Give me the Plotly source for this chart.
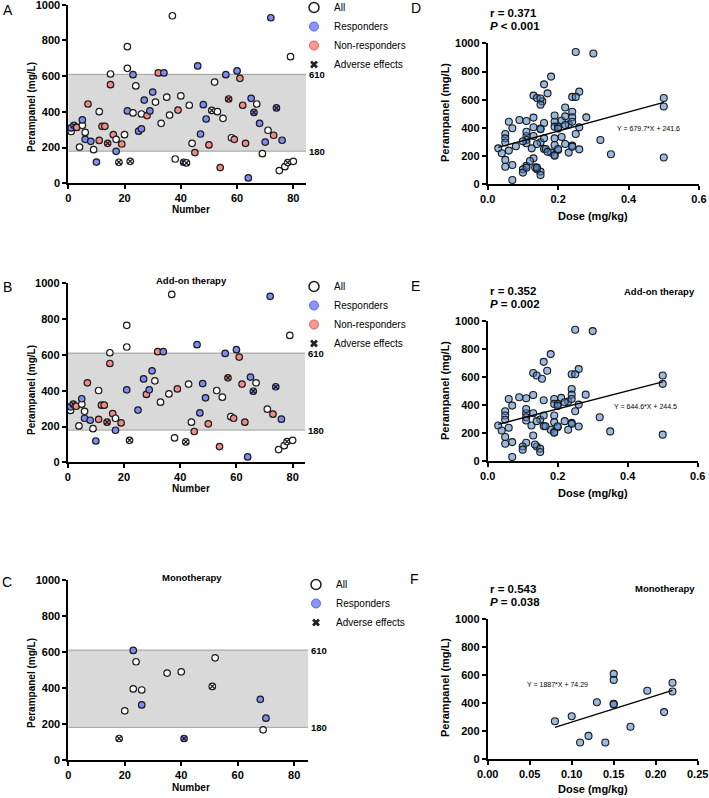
import plotly.graph_objects as go

W, H = 709, 798
FONT = "Liberation Sans, Arial, sans-serif"

# Panels A-C: patient number vs perampanel concentration
number = [1, 1, 2, 3, 4, 5, 5, 6, 6, 7, 8, 9, 10, 11, 11, 12, 13, 14, 15, 15,
          16, 17, 17, 18, 19, 20, 21, 21, 21, 22, 23, 23, 24, 25, 26, 26, 27, 28, 29, 30,
          31, 32, 33, 34, 35, 36, 37, 38, 39, 40, 41, 42, 43, 44, 45, 46, 47, 48, 49, 50,
          51, 52, 53, 54, 55, 56, 57, 58, 59, 60, 61, 62, 63, 64, 65, 66, 67, 68, 69, 70,
          71, 72, 73, 74, 75, 76, 77, 78, 79, 80]
conc = [290, 310, 325, 313, 203, 325, 355, 246, 285, 444, 235, 188, 119, 401, 240, 319, 319, 224, 612, 552,
        272, 246, 179, 118, 220, 272, 765, 644, 405, 123, 608, 394, 545, 292, 305, 388, 466, 379, 405, 511,
        455, 618, 336, 618, 482, 382, 938, 136, 410, 489, 118, 114, 437, 224, 172, 657, 276, 440, 360, 215,
        408, 567, 401, 88, 364, 608, 472, 255, 246, 629, 588, 437, 224, 30, 476, 397, 444, 336, 166, 231,
        297, 927, 269, 422, 71, 241, 93, 116, 709, 123]
# A = all (no response data), R = responder, N = non-responder
group = ['A', 'R', 'R', 'N', 'A', 'A', 'R', 'R', 'A', 'N', 'R', 'A', 'R', 'A', 'N', 'N', 'N', 'N', 'A', 'N',
         'N', 'A', 'R', 'A', 'N', 'A', 'A', 'A', 'R', 'A', 'R', 'A', 'A', 'R', 'R', 'A', 'R', 'N', 'R', 'R',
         'A', 'N', 'A', 'R', 'A', 'A', 'A', 'A', 'N', 'A', 'R', 'A', 'A', 'A', 'N', 'R', 'R', 'R', 'R', 'N',
         'A', 'A', 'A', 'N', 'A', 'R', 'N', 'A', 'N', 'R', 'N', 'N', 'N', 'R', 'R', 'R', 'A', 'R', 'A', 'R',
         'A', 'R', 'N', 'R', 'A', 'R', 'A', 'A', 'A', 'A']
adverse = [0, 0, 1, 0, 0, 0, 0, 0, 0, 0, 0, 0, 0, 0, 0, 0, 0, 1, 0, 0,
           0, 0, 0, 1, 0, 0, 0, 0, 0, 1, 0, 0, 0, 0, 0, 0, 0, 0, 0, 0,
           0, 0, 0, 0, 0, 0, 0, 0, 0, 0, 1, 1, 0, 0, 0, 0, 0, 0, 0, 0,
           1, 0, 0, 0, 0, 0, 1, 0, 0, 0, 0, 0, 0, 0, 0, 1, 0, 0, 0, 0,
           0, 0, 0, 1, 0, 0, 0, 1, 0, 0]
mono = [0, 0, 0, 0, 0, 0, 0, 0, 0, 0, 0, 0, 0, 0, 0, 0, 0, 0, 0, 0,
        0, 0, 0, 1, 0, 1, 0, 0, 0, 0, 1, 1, 1, 0, 1, 1, 0, 0, 0, 0,
        0, 0, 0, 0, 1, 0, 0, 0, 0, 1, 1, 0, 0, 0, 0, 0, 0, 0, 0, 0,
        1, 1, 0, 0, 0, 0, 0, 0, 0, 0, 0, 0, 0, 0, 0, 0, 0, 1, 1, 1,
        0, 0, 0, 0, 0, 0, 0, 0, 0, 0]
band_low, band_high = 180, 610

# Panels D-F: dose vs concentration
addon_dose = [0.25, 0.30, 0.18, 0.16, 0.17, 0.26, 0.13, 0.14, 0.155, 0.24, 0.25, 0.24, 0.24, 0.28, 0.06, 0.09,
              0.07, 0.11, 0.13, 0.16, 0.19, 0.21, 0.23, 0.24, 0.26, 0.05, 0.05, 0.05, 0.11, 0.11, 0.11, 0.13,
              0.15, 0.16, 0.19, 0.20, 0.20, 0.22, 0.19, 0.19, 0.03, 0.04, 0.06, 0.125, 0.14, 0.16, 0.18, 0.19,
              0.20, 0.22, 0.23, 0.24, 0.26, 0.25, 0.24, 0.32, 0.35, 0.05, 0.05, 0.07, 0.13, 0.11, 0.10, 0.10,
              0.14, 0.15, 0.15, 0.07, 0.50, 0.50, 0.50, 0.19, 0.11, 0.135, 0.20, 0.165]
addon_conc = [938, 928, 764, 709, 645, 657, 629, 612, 588, 620, 620, 515, 475, 475, 444, 456,
              397, 449, 473, 435, 444, 452, 425, 444, 404, 357, 326, 296, 343, 314, 291, 343,
              298, 326, 409, 409, 395, 421, 326, 279, 255, 220, 239, 255, 286, 251, 225, 208,
              243, 286, 225, 274, 248, 357, 267, 314, 213, 173, 125, 137, 184, 132, 106, 83,
              106, 90, 66, 31, 612, 552, 190, 203, 373, 120, 250, 250]
mono_dose = [0.08, 0.10, 0.11, 0.12, 0.13, 0.14, 0.15, 0.15, 0.15, 0.15, 0.17, 0.19, 0.21, 0.22, 0.22]
mono_conc = [270, 305, 118, 165, 405, 118, 608, 565, 395, 390, 230, 488, 335, 545, 482]

# regression lines (slope, intercept) as printed on the panels
fit_all = (679.7, 241.6)
fit_addon = (644.6, 244.5)
fit_mono = (1887, 74.29)


def px(x):
    return x / W


def py(y):
    return 1 - y / H


fig = go.Figure()

fill = {'A': 'white', 'R': '#7f8cf2', 'N': '#f28b84'}


def number_panel(sel, xa, ya):
    xs = [number[i] for i in sel]
    ys = [conc[i] for i in sel]
    cols = [fill[group[i]] for i in sel]
    syms = ['circle-x' if adverse[i] else 'circle' for i in sel]
    fig.add_trace(go.Scatter(x=xs, y=ys, mode='markers', xaxis=xa, yaxis=ya,
                             showlegend=False, cliponaxis=False,
                             marker=dict(size=6.5, color=cols, symbol=syms,
                                         line=dict(color='#1a1a1a', width=1.2))))


all_idx = list(range(len(number)))
number_panel(all_idx, 'x', 'y')
number_panel([i for i in all_idx if not mono[i]], 'x3', 'y3')
number_panel([i for i in all_idx if mono[i]], 'x5', 'y5')


def legend_entries(lg, with_nonresp=True):
    items = [('All', dict(size=10, color='white', line=dict(color='#1a1a1a', width=1.5))),
             ('Responders', dict(size=9, color='#8a95f5', line=dict(color='#4f62ff', width=1)))]
    if with_nonresp:
        items.append(('Non-responders', dict(size=9, color='#f59a94', line=dict(color='#f05a50', width=1))))
    items.append(('Adverse effects', dict(size=7, symbol='x', color='#222222', line=dict(width=0))))
    for name, mk in items:
        fig.add_trace(go.Scatter(x=[None], y=[None], mode='markers', name=name, marker=mk,
                                 legend=lg, xaxis='x', yaxis='y'))


legend_entries('legend')
legend_entries('legend2')
legend_entries('legend3', with_nonresp=False)


def dose_panel(dose, values, fit, xa, ya):
    fig.add_trace(go.Scatter(x=dose, y=values, mode='markers', xaxis=xa, yaxis=ya,
                             showlegend=False, cliponaxis=False,
                             marker=dict(size=7, color='rgba(70,128,196,0.55)',
                                         line=dict(color='#1a1a1a', width=1.1))))
    x0, x1 = min(dose), max(dose)
    fig.add_trace(go.Scatter(x=[x0, x1], y=[fit[0] * x0 + fit[1], fit[0] * x1 + fit[1]],
                             mode='lines', xaxis=xa, yaxis=ya, showlegend=False,
                             line=dict(color='black', width=1.3)))


dose_panel(addon_dose + mono_dose, addon_conc + mono_conc, fit_all, 'x2', 'y2')
dose_panel(addon_dose, addon_conc, fit_addon, 'x4', 'y4')
dose_panel(mono_dose, mono_conc, fit_mono, 'x6', 'y6')

tickfont = dict(family=FONT, size=11, color='black', weight='bold')
axis_style = dict(showgrid=False, zeroline=False, showline=True, linecolor='black', linewidth=1.8,
                  ticks='outside', ticklen=4, tickwidth=1.5, tickcolor='black', tickfont=tickfont,
                  automargin=False, ticklabeloverflow='allow')

panels = {
    # name: (x domain px, y domain px, x range, x ticks, tickformat)
    '': ((68.3, 306), (183.3, 4.7), [0, 84.5], [0, 20, 40, 60, 80], None),
    '2': ((487.7, 699), (184.3, 43.3), [0, 0.6], [0, 0.2, 0.4, 0.6], '.1f'),
    '3': ((67.7, 305.3), (462.3, 283.3), [0, 84.5], [0, 20, 40, 60, 80], None),
    '4': ((487.7, 697.7), (461.3, 321), [0, 0.6], [0, 0.2, 0.4, 0.6], '.1f'),
    '5': ((68.3, 308.3), (759.7, 580), [0, 85], [0, 20, 40, 60, 80], None),
    '6': ((487.7, 697.7), (759, 619), [0, 0.25], [0, 0.05, 0.1, 0.15, 0.2, 0.25], '.2f'),
}
lay = {}
for k, (xd, yd, xr, xt, fmt) in panels.items():
    xa = dict(axis_style, domain=[px(xd[0]), px(xd[1])], range=xr, tickvals=xt,
              anchor='y' + k)
    if fmt:
        xa['tickformat'] = fmt
    ya = dict(axis_style, domain=[py(yd[0]), py(yd[1])], range=[0, 1000],
              tickvals=[0, 200, 400, 600, 800, 1000], anchor='x' + k)
    lay['xaxis' + k] = xa
    lay['yaxis' + k] = ya

# therapeutic reference band on number panels
shapes = []
for k, xmax in (('', 84.5), ('3', 84.5), ('5', 85)):
    shapes.append(dict(type='rect', xref='x' + k, yref='y' + k, x0=0, x1=xmax, y0=band_low, y1=band_high,
                       fillcolor='#d9d9d9', line=dict(width=0), layer='below'))
    for yv in (band_low, band_high):
        shapes.append(dict(type='line', xref='x' + k, yref='y' + k, x0=0, x1=xmax, y0=yv, y1=yv,
                           line=dict(color='#9e9e9e', width=1), layer='below'))

ann = []


def text(x, y, s, size, bold=False, xanchor='center', yanchor='middle', angle=0):
    ann.append(dict(x=px(x), y=py(y), xref='paper', yref='paper', text=s, showarrow=False,
                    xanchor=xanchor, yanchor=yanchor, textangle=angle,
                    font=dict(family=FONT, size=size, color='black',
                              weight='bold' if bold else 'normal')))


for k, xmax in (('', 84.5), ('3', 84.5), ('5', 85)):
    for yv in (band_low, band_high):
        ann.append(dict(x=xmax, y=yv, xref='x' + k, yref='y' + k, text=str(yv), showarrow=False,
                        xanchor='left', yanchor='middle', xshift=1,
                        font=dict(family=FONT, size=9.5, color='black', weight='bold')))

# panel letters
for s, x, y in (('A', 8, 10), ('B', 7, 287), ('C', 7, 582), ('D', 416, 8), ('E', 415, 286), ('F', 414, 579)):
    text(x, y, s, 14)

# axis titles
for y in (210, 488, 787):
    text(191, y, 'Number', 10, True)
for y in (216, 493, 789):
    text(593, y, 'Dose (mg/kg)', 11, True)
for y in (107, 390, 683):
    text(31, y, 'Perampanel (mg/L)', 10, True, angle=-90)
for y in (113, 391, 688):
    text(445, y, 'Perampanel (mg/L)', 11, True, angle=-90)

# titles and stats
text(191, 280, 'Add-on therapy', 9.5, True)
text(192, 577, 'Monotherapy', 9.5, True)
text(697, 291, 'Add-on therapy', 9.5, True, xanchor='right')
text(697, 588, 'Monotherapy', 9.5, True, xanchor='right')
for y, r, p in ((13, '0.371', '&lt; 0.001'), (291, '0.352', '= 0.002'), (589, '0.543', '= 0.038')):
    text(487.7, y, 'r = ' + r, 11.5, True, xanchor='left')
    text(487.7, y + 13, '<i>P</i> ' + p, 11.5, True, xanchor='left')
for (x, y), f in (((648, 128), fit_all), ((645, 406), fit_addon), ((557, 684), fit_mono)):
    text(x, y, 'Y = %s*X + %s' % (f[0], f[1]), 7)

leg = dict(font=dict(family=FONT, size=10, color='black'), bgcolor='rgba(0,0,0,0)',
           xanchor='left', yanchor='top', itemclick=False, tracegroupgap=0)
fig.update_layout(
    width=W, height=H, margin=dict(l=0, r=0, t=0, b=0, autoexpand=False),
    paper_bgcolor='white', plot_bgcolor='rgba(0,0,0,0)',
    font=dict(family=FONT, color='black'),
    shapes=shapes, annotations=ann,
    legend=dict(leg, x=px(294), y=py(-7)),
    legend2=dict(leg, x=px(294), y=py(272)),
    legend3=dict(leg, x=px(296), y=py(570)),
    **lay,
)

# drop the browser's default 8px page margin so the figure sits at the window origin
fig.write_html("out.html", config={'displayModeBar': False},
               post_script="document.body.style.margin = '0px';")
